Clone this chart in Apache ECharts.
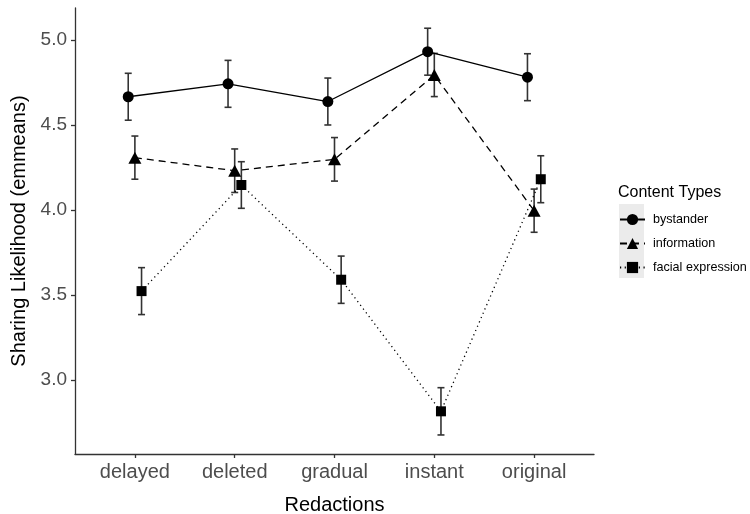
<!DOCTYPE html>
<html>
<head>
<meta charset="utf-8">
<script src="https://cdn.jsdelivr.net/npm/echarts@6/dist/echarts.min.js"></script>
<style>html,body{margin:0;padding:0;background:#fff;}#c{width:750px;height:514px;}</style>
</head>
<body>
<div id="c"></div>
<script>
const categories = ['delayed', 'deleted', 'gradual', 'instant', 'original'];
const groups = ['bystander', 'information', 'facial expression'];
const bystanderMean = [4.666, 4.742, 4.638, 4.931, 4.781];
const bystanderSE = [0.138, 0.138, 0.138, 0.138, 0.138];
const informationMean = [4.308, 4.231, 4.298, 4.794, 3.996];
const informationSE = [0.127, 0.128, 0.128, 0.127, 0.127];
const facialMean = [3.523, 4.147, 3.590, 2.816, 4.181];
const facialSE = [0.138, 0.137, 0.139, 0.139, 0.138];
const yTicks = [3.0, 3.5, 4.0, 4.5, 5.0];

const means = [bystanderMean, informationMean, facialMean];
const ses = [bystanderSE, informationSE, facialSE];
const dodge = [-0.0667, 0, 0.0667];
const symbols = ['circle', 'triangle', 'rect'];
const symbolSizes = [11, [13, 12], 10];
const lineTypes = ['solid', [7, 5], [1.2, 3.5]];
const FONT = 'Liberation Sans, Arial, sans-serif';

const chart = echarts.init(document.getElementById('c'), null, {renderer: 'canvas'});

const series = [];
groups.forEach((g, k) => {
  series.push({
    name: g,
    type: 'line',
    z: 4,
    data: categories.map((c, i) => [i + dodge[k], means[k][i]]),
    symbol: symbols[k],
    symbolSize: symbolSizes[k],
    showSymbol: true,
    itemStyle: {color: '#000000', opacity: 1},
    lineStyle: {color: '#000000', width: 1.3, type: lineTypes[k]},
    emphasis: {disabled: true},
    animation: false
  });
  series.push({
    name: g + ' (SE)',
    type: 'custom',
    silent: true,
    z: 3,
    data: categories.map((c, i) => [i + dodge[k], means[k][i] - ses[k][i], means[k][i] + ses[k][i]]),
    renderItem: function (params, api) {
      const x = api.value(0);
      const lo = api.coord([x, api.value(1)]);
      const hi = api.coord([x, api.value(2)]);
      const hw = api.size([0.035, 0])[0];
      const st = {stroke: '#333333', lineWidth: 1.6};
      return {
        type: 'group',
        children: [
          {type: 'line', shape: {x1: lo[0], y1: lo[1], x2: hi[0], y2: hi[1]}, style: st},
          {type: 'line', shape: {x1: lo[0] - hw, y1: lo[1], x2: lo[0] + hw, y2: lo[1]}, style: st},
          {type: 'line', shape: {x1: hi[0] - hw, y1: hi[1], x2: hi[0] + hw, y2: hi[1]}, style: st}
        ]
      };
    }
  });
});

const option = {
  animation: false,
  backgroundColor: '#ffffff',
  textStyle: {fontFamily: FONT},
  grid: {left: 75, right: 156, top: 8, bottom: 60, containLabel: false, outerBoundsMode: 'none'},
  title: {
    text: 'Content Types',
    left: 613, top: 180,
    textStyle: {fontFamily: FONT, fontSize: 16, fontWeight: 'normal', color: '#000000'}
  },
  graphic: [{
    type: 'rect', left: 619, top: 204, z: -1,
    shape: {width: 25, height: 74},
    style: {fill: '#ebebeb'}
  }],
  legend: {
    orient: 'vertical',
    left: 619, top: 213, padding: 0,
    itemWidth: 25, itemHeight: 14, itemGap: 11,
    data: groups,
    selectedMode: false,
    textStyle: {fontFamily: FONT, fontSize: 12.6, color: '#000000', padding: [0, 0, 0, 3]}
  },
  xAxis: {
    type: 'value',
    min: -0.6, max: 4.6,
    name: 'Redactions',
    nameLocation: 'middle',
    nameGap: 41,
    nameTextStyle: {fontFamily: FONT, fontSize: 20, color: '#000000'},
    splitLine: {show: false},
    axisLine: {show: true, onZero: false, lineStyle: {color: '#333333', width: 1.3}},
    axisTick: {show: true, length: 4, customValues: [0, 1, 2, 3, 4], lineStyle: {color: '#333333', width: 1.3}},
    axisLabel: {
      customValues: [0, 1, 2, 3, 4],
      margin: 8,
      fontFamily: FONT, fontSize: 20, color: '#4d4d4d',
      formatter: v => categories[Math.round(v)]
    }
  },
  yAxis: {
    type: 'value',
    min: 2.565, max: 5.188,
    name: 'Sharing Likelihood (emmeans)',
    nameLocation: 'middle',
    nameGap: 44,
    nameTextStyle: {fontFamily: FONT, fontSize: 20, color: '#000000'},
    splitLine: {show: false},
    axisLine: {show: true, onZero: false, lineStyle: {color: '#333333', width: 1.3}},
    axisTick: {show: true, length: 4, customValues: yTicks, lineStyle: {color: '#333333', width: 1.3}},
    axisLabel: {
      customValues: yTicks,
      margin: 8,
      fontFamily: FONT, fontSize: 19, color: '#4d4d4d',
      formatter: v => v.toFixed(1)
    }
  },
  series: series
};
chart.setOption(option);
</script>
</body>
</html>
